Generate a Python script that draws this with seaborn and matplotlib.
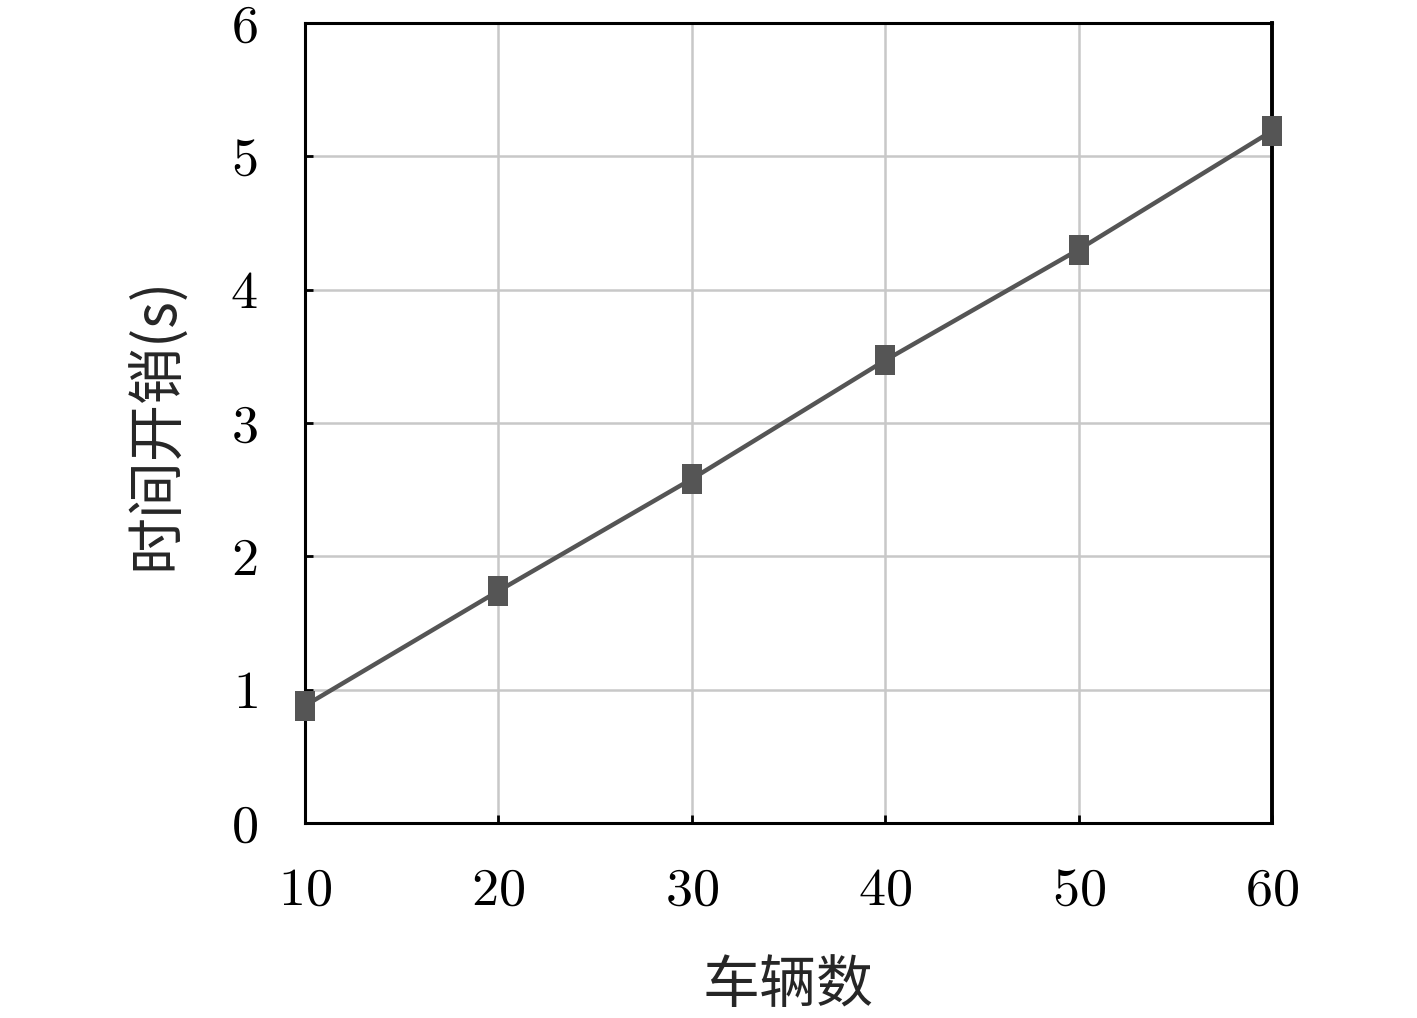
import numpy as np
import pandas as pd
import seaborn as sns
import matplotlib.pyplot as plt
from matplotlib.ticker import MultipleLocator

# 数据
vehicles = [10, 20, 30, 40, 50, 60]
time_cost = [0.88, 1.74, 2.58, 3.47, 4.30, 5.19]

df = pd.DataFrame({"vehicles": vehicles, "time_cost": time_cost})

sns.set_theme(style="white")
plt.rcParams['font.family'] = ['cmr10', 'Noto Sans CJK SC', 'DejaVu Sans']
plt.rcParams['axes.formatter.use_mathtext'] = True

fig = plt.figure(figsize=(14.17, 10.18), dpi=100)
ax = fig.add_axes([305 / 1417, 1 - 823 / 1018, (1272 - 305) / 1417, (823 - 23) / 1018])

# 矩形标记（高大于宽）
rect = [(-0.7, -1), (0.7, -1), (0.7, 1), (-0.7, 1), (-0.7, -1)]
sns.lineplot(data=df, x="vehicles", y="time_cost", ax=ax, color="#555555",
             linewidth=3.2, marker=rect, markersize=21, markeredgewidth=0,
             markerfacecolor="#555555", clip_on=False, zorder=5)

ax.set_xlim(10, 60)
ax.set_ylim(0, 6)
ax.xaxis.set_major_locator(MultipleLocator(10))
ax.yaxis.set_major_locator(MultipleLocator(1))

ax.grid(True, color="#c8c8c8", linewidth=1.8)
ax.set_axisbelow(True)
for s in ax.spines.values():
    s.set_visible(True)
    s.set_color("black")
    s.set_linewidth(2.2)
ax.spines["right"].set_linewidth(2.8)

ax.tick_params(axis="both", direction="in", length=6, width=2, color="black",
               labelsize=39, labelcolor="black")
ax.tick_params(axis="x", pad=32, bottom=True)
ax.tick_params(axis="y", pad=34, left=True)

ax.set_xlabel("车辆数", fontsize=41, family=['Noto Sans CJK SC', 'DejaVu Sans'], labelpad=30)
ax.set_ylabel("时间开销(s)", fontsize=41, family=['Noto Sans CJK SC', 'DejaVu Sans'], labelpad=32)

fig.savefig("out.png", dpi=100)
